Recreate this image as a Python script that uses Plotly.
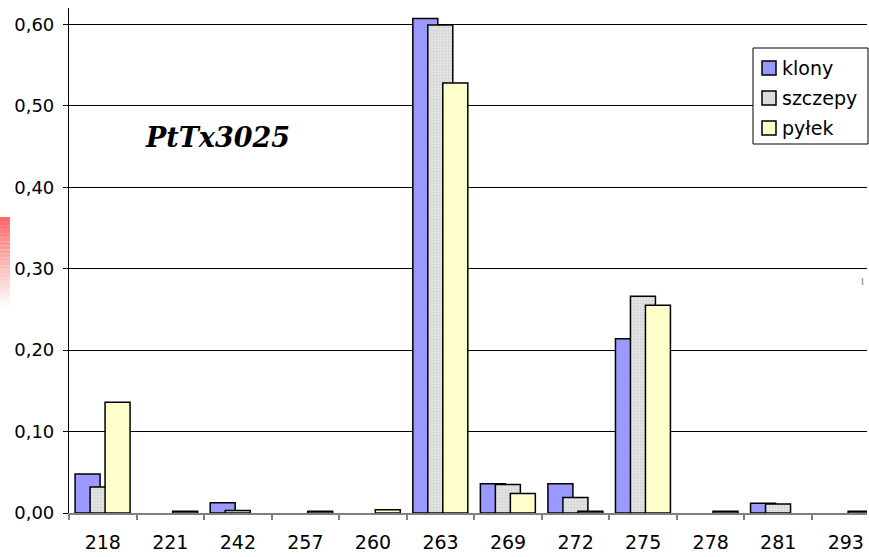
import plotly.graph_objects as go

# Allele sizes and their frequencies in the three sample groups
alleles = ["218", "221", "242", "257", "260", "263", "269", "272", "275", "278", "281", "293"]
klony = [0.048, None, 0.0126, None, None, 0.607, 0.036, 0.036, 0.214, None, 0.012, None]
szczepy = [0.032, None, 0.003, None, None, 0.599, 0.035, 0.019, 0.266, None, 0.011, None]
pylek = [0.136, 0.002, None, 0.002, 0.004, 0.528, 0.024, 0.002, 0.255, 0.002, None, 0.002]

series_names = ["klony", "szczepy", "pyłek"]
y_ticks = [0.0, 0.1, 0.2, 0.3, 0.4, 0.5, 0.6]

FONT = "DejaVu Sans"
BAR_W = 0.37          # bar width in category units
STEP = 0.222          # shift between neighbouring series (bars overlap)
FIRST = -0.41         # left edge of the first bar relative to category centre

# plot area geometry (pixels) used to place decorations in paper coordinates
PL, PW, PB, PH = 69, 798, 513, 505


def px_x(p):
    return (p - PL) / PW


def px_y(q):
    return (PB - q) / PH


fills = [
    dict(color="#9999ff"),
    dict(color="#dcdcdc",
         pattern=dict(shape=".", fgcolor="#b8b8b8", bgcolor="#e2e2e2", size=3, solidity=0.25)),
    dict(color="#ffffcc"),
]

fig = go.Figure()
for i, (name, vals) in enumerate(zip(series_names, [klony, szczepy, pylek])):
    mk = dict(fills[i])
    mk["line"] = dict(color="#000000", width=1.5)
    fig.add_trace(go.Bar(
        x=alleles, y=vals, name=name,
        width=BAR_W, offset=FIRST + i * STEP,
        marker=mk, showlegend=False,
    ))

shapes = []
annotations = []

# soft pink strip at the left border
top_px, bot_px, n = 217, 306, 22
for k in range(n):
    y0 = top_px + (bot_px - top_px) * k / n
    y1 = top_px + (bot_px - top_px) * (k + 1) / n
    t = k / (n - 1)
    g = int(105 + (250 - 105) * t)
    shapes.append(dict(
        type="rect", xref="paper", yref="paper", layer="above",
        x0=px_x(0), x1=px_x(10), y0=px_y(y1), y1=px_y(y0),
        fillcolor=f"rgb(255,{g},{g})", line=dict(width=0),
    ))
# small grey mark at the right border
shapes.append(dict(
    type="line", xref="paper", yref="paper",
    x0=px_x(862.5), x1=px_x(862.5), y0=px_y(285), y1=px_y(278),
    line=dict(color="#a0a0a0", width=1.5),
))

# legend box with swatches
shapes.append(dict(
    type="rect", xref="paper", yref="paper", layer="above",
    x0=px_x(753), x1=px_x(868), y0=px_y(144), y1=px_y(48),
    fillcolor="white", line=dict(color="#000000", width=1),
))
legend_colors = ["#9999ff", "#dcdcdc", "#ffffcc"]
for i, name in enumerate(series_names):
    cy = 68 + 30 * i
    shapes.append(dict(
        type="rect", xref="paper", yref="paper", layer="above",
        x0=px_x(762), x1=px_x(776), y0=px_y(cy + 7), y1=px_y(cy - 7),
        fillcolor=legend_colors[i], line=dict(color="#000000", width=1.5),
    ))
    annotations.append(dict(
        text=name, xref="paper", yref="paper",
        x=px_x(780), y=px_y(cy), xanchor="left", yanchor="middle",
        showarrow=False, font=dict(family=FONT, size=19, color="#000000"),
    ))

annotations.append(dict(
    text="<b><i>PtTx3025</i></b>", xref="paper", yref="paper",
    x=px_x(217), y=px_y(137), xanchor="center", yanchor="middle",
    showarrow=False, font=dict(family="DejaVu Serif", size=27, color="#000000"),
))

fig.update_layout(
    width=869, height=557,
    margin=dict(l=PL, r=869 - PL - PW, t=PB - PH, b=557 - PB),
    paper_bgcolor="white", plot_bgcolor="white",
    barmode="overlay",
    separators=", ",
    showlegend=False,
    shapes=shapes,
    annotations=annotations,
)

fig.update_xaxes(
    type="category", range=[-0.5, 11.314],
    tickson="boundaries", ticks="outside", ticklen=5, tickcolor="#808080", tickwidth=1.5,
    showline=True, linecolor="#808080", linewidth=1.5,
    showgrid=False, zeroline=False,
    tickfont=dict(family=FONT, size=19, color="#000000"),
    ticklabelstandoff=11,
)
fig.update_yaxes(
    range=[0, 0.62], tickvals=y_ticks, tickformat=".2f",
    ticks="outside", ticklen=5, tickcolor="#000000", tickwidth=1.2,
    showline=True, linecolor="#000000", linewidth=1.2,
    showgrid=True, gridcolor="#000000", gridwidth=1,
    zeroline=False,
    tickfont=dict(family=FONT, size=18, color="#000000"),
    ticklabelstandoff=5,
)

fig.write_html("out.html")
